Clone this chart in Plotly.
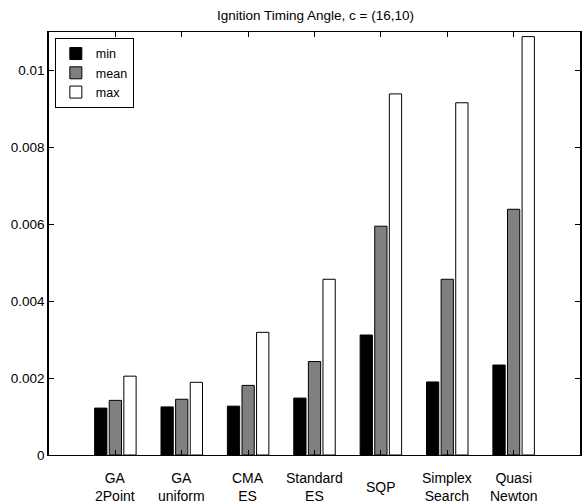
import plotly.graph_objects as go

categories = ["GA<br>2Point", "GA<br>uniform", "CMA<br>ES", "Standard<br>ES", "SQP",
              "Simplex<br>Search", "Quasi<br>Newton"]
positions = [1, 2, 3, 4, 5, 6, 7]
min_vals = [0.00122, 0.00125, 0.00127, 0.00148, 0.00312, 0.00190, 0.00234]
mean_vals = [0.00142, 0.00145, 0.00181, 0.00243, 0.00595, 0.00457, 0.00639]
max_vals = [0.00205, 0.00189, 0.00319, 0.00457, 0.00939, 0.00916, 0.01088]
y_ticks = [0, 0.002, 0.004, 0.006, 0.008, 0.01]
y_ticktext = ["0", "0.002", "0.004", "0.006", "0.008", "0.01"]

FONT = "Liberation Sans, Arial, Helvetica, sans-serif"

fig = go.Figure()
for name, vals, col in [("min", min_vals, "#000000"),
                        ("mean", mean_vals, "#808080"),
                        ("max", max_vals, "#ffffff")]:
    fig.add_trace(go.Bar(x=positions, y=vals, name=name,
                         marker=dict(color=col, line=dict(color="#000000", width=1))))

for p, c in zip(positions, categories):
    fig.add_annotation(x=p, xref="x", y=-0.076, yref="paper", text=c,
                       showarrow=False, yanchor="middle", xanchor="center",
                       font=dict(size=14, color="#000000", family=FONT))

fig.update_layout(
    width=582, height=504,
    margin=dict(l=49, r=0, t=32, b=49),
    paper_bgcolor="white", plot_bgcolor="white",
    barmode="group", bargap=0.34, bargroupgap=0.16,
    font=dict(family=FONT, size=14, color="#000000"),
    title=dict(text="Ignition Timing Angle, c = (16,10)", x=0.542, xanchor="center",
               y=1 - 15 / 504, yanchor="middle", yref="container",
               font=dict(size=13.5, color="#000000", family=FONT)),
    legend=dict(x=0.011, y=0.986, xanchor="left", yanchor="top",
                bordercolor="#000000", borderwidth=1, bgcolor="white",
                font=dict(size=12.5, family=FONT), traceorder="normal",
                itemwidth=30),
    xaxis=dict(range=[0, 8], tickvals=positions, showticklabels=False,
               ticks="inside", ticklen=5, tickcolor="#000000",
               showline=True, linecolor="#000000", linewidth=1, mirror="allticks",
               showgrid=False, zeroline=False),
    yaxis=dict(range=[0, 0.011], tickvals=y_ticks, ticktext=y_ticktext,
               ticks="inside", ticklen=5, tickcolor="#000000",
               showline=True, linecolor="#000000", linewidth=1.5, mirror="allticks",
               showgrid=False, zeroline=False,
               tickfont=dict(size=13.5, family=FONT)),
)

fig.write_html("out.html")
